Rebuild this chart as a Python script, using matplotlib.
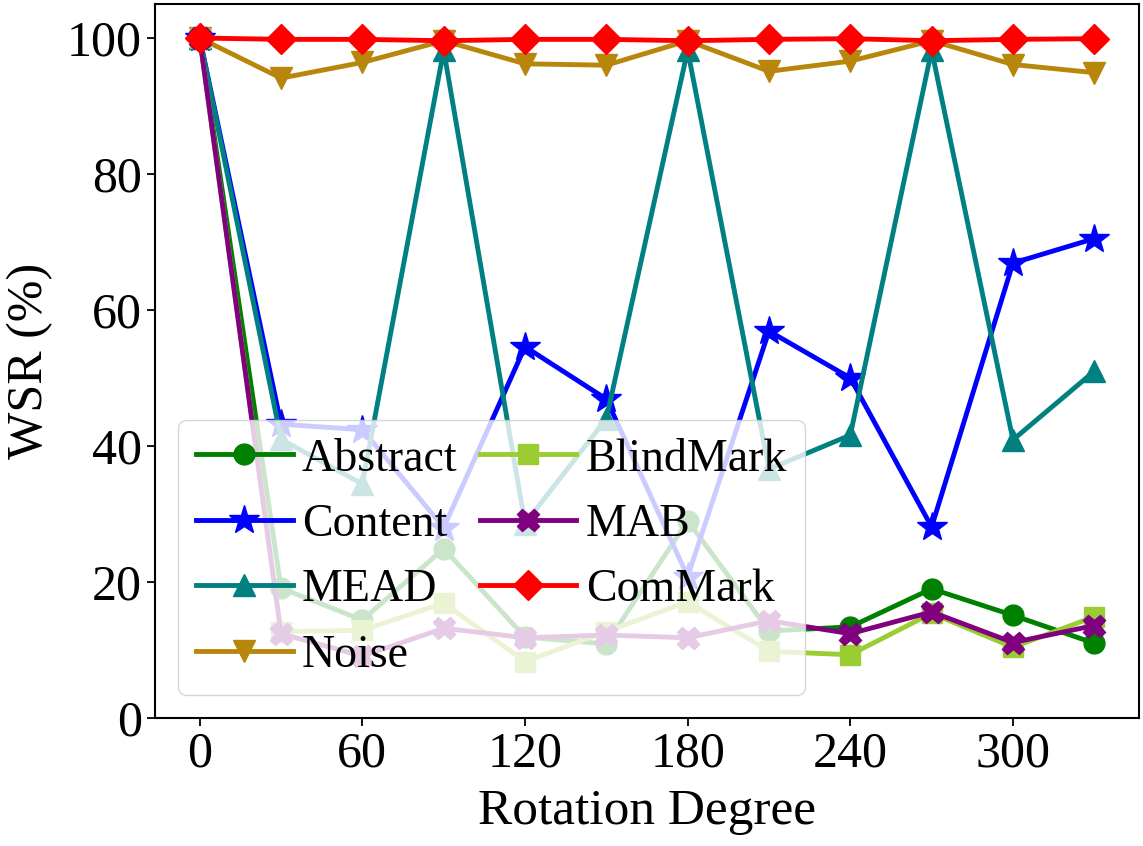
import numpy as np
import matplotlib
matplotlib.use('Agg')
import matplotlib.pyplot as plt

plt.rcParams['font.family'] = ['Liberation Serif', 'DejaVu Serif']

# rotation degree
degrees = [0, 30, 60, 90, 120, 150, 180, 210, 240, 270, 300, 330]

# WSR (%) per method
abstract = [100, 19.1, 14.4, 24.9, 11.9, 10.9, 29.0, 12.8, 13.4, 19.0, 15.1, 11.0]
content = [100, 43.2, 42.4, 28.0, 54.6, 46.9, 20.8, 56.9, 50.0, 28.1, 66.9, 70.5]
mead = [100, 41.0, 34.4, 98.2, 28.6, 44.0, 98.2, 36.6, 41.6, 98.2, 40.9, 51.0]
noise = [100, 94.1, 96.4, 99.6, 96.2, 96.0, 99.6, 95.1, 96.6, 99.6, 96.1, 94.9]
blindmark = [100, 12.7, 12.9, 16.9, 8.3, 12.7, 17.1, 9.8, 9.3, 15.4, 10.4, 14.9]
mab = [100, 12.4, 9.1, 13.2, 11.8, 12.2, 11.8, 14.3, 12.4, 15.6, 11.1, 13.6]
commark = [100, 99.8, 99.8, 99.6, 99.8, 99.8, 99.6, 99.8, 99.9, 99.6, 99.8, 99.9]

fig = plt.figure(figsize=(11.43, 8.46), dpi=100)
ax = fig.add_subplot(111)
fig.subplots_adjust(left=155/1143, right=1139/1143, top=1-4/846, bottom=1-718/846)

lw = 3.5
ax.plot(degrees, abstract, color='green', marker='o', ms=15, lw=lw, label='Abstract')
ax.plot(degrees, content, color='blue', marker='*', ms=22, lw=lw, label='Content')
ax.plot(degrees, mead, color='teal', marker='^', ms=16, lw=lw, label='MEAD')
ax.plot(degrees, noise, color='darkgoldenrod', marker='v', ms=16, lw=lw, label='Noise')
ax.plot(degrees, blindmark, color='yellowgreen', marker='s', ms=14, lw=lw, label='BlindMark')
ax.plot(degrees, mab, color='purple', marker='X', ms=16, lw=lw, label='MAB')
ax.plot(degrees, commark, color='red', marker='D', ms=15, lw=lw, label='ComMark')

ax.set_xticks([0, 60, 120, 180, 240, 300])
ax.set_yticks([0, 20, 40, 60, 80, 100])
ax.set_ylim(0, 105)
ax.tick_params(labelsize=36, length=6, width=1.3)
for s in ax.spines.values():
    s.set_linewidth(1.5)

ax.set_xlabel('Rotation Degree', fontsize=37, labelpad=8)
ax.set_ylabel('WSR (%)', fontsize=36, labelpad=10)

ax.legend(loc='lower left', ncol=2, fontsize=33, handlelength=2.1,
          handletextpad=0.2, columnspacing=0.5, labelspacing=0.5)

fig.savefig('out.png', dpi=100)
